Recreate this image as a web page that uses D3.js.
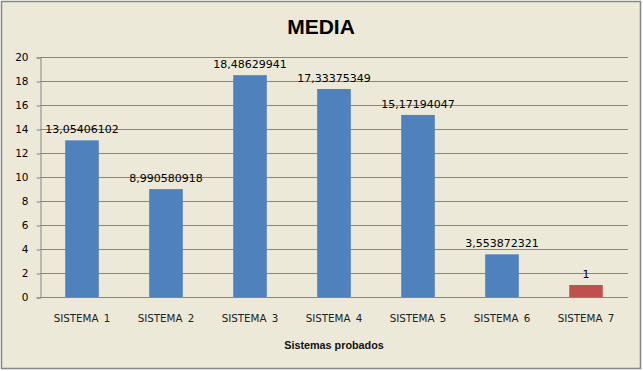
<!DOCTYPE html>
<html><head><meta charset="utf-8">
<script src="https://cdn.jsdelivr.net/npm/d3@7/dist/d3.min.js"></script>
<style>html,body{margin:0;padding:0;background:#fff;}svg{display:block;}</style>
</head><body>
<script>
const categories = ["SISTEMA 1","SISTEMA 2","SISTEMA 3","SISTEMA 4","SISTEMA 5","SISTEMA 6","SISTEMA 7"];
const values = [13.05406102, 8.990580918, 18.48629941, 17.33375349, 15.17194047, 3.553872321, 1];
const valueLabels = ["13,05406102","8,990580918","18,48629941","17,33375349","15,17194047","3,553872321","1"];
const barColors = ["#4F81BD","#4F81BD","#4F81BD","#4F81BD","#4F81BD","#4F81BD","#C0504D"];
const yTicks = [0,2,4,6,8,10,12,14,16,18,20];

(function(){
const W = 643, H = 371;
const svg = d3.select("body").append("svg").attr("width", W).attr("height", H);
svg.append("rect").attr("x",1.5).attr("y",1.5).attr("width",W-4).attr("height",H-4)
  .attr("fill","#ECE9D8").attr("stroke","#868686").attr("stroke-width",1.5);

const pL = 40, pR = 628, pT = 57, pB = 297;
const x = d3.scaleBand().domain(categories).range([pL, pR]).padding(0);
const y = d3.scaleLinear().domain([0,20]).range([pB, pT]);

// gridlines
svg.append("g").selectAll("line").data(yTicks).join("line")
  .attr("x1", pL).attr("x2", pR)
  .attr("y1", d => Math.round(y(d))+0.5).attr("y2", d => Math.round(y(d))+0.5)
  .attr("stroke","#868686").attr("stroke-width",1);

// y axis
const yAxis = d3.axisLeft(y).tickValues(yTicks).tickSize(4).tickPadding(8);
const gy = svg.append("g").attr("transform",`translate(${pL+0.5},0.5)`).call(yAxis);
gy.selectAll("path,line").attr("stroke","#868686");
gy.selectAll("text").attr("font-family","DejaVu Sans").attr("font-size","10.5px").attr("fill","#000");

// bars
const bw = x.bandwidth()*0.4;
svg.append("g").selectAll("rect").data(values).join("rect")
  .attr("x", (d,i) => x(categories[i]) + x.bandwidth()/2 - bw/2)
  .attr("y", d => y(d))
  .attr("width", bw)
  .attr("height", d => pB - y(d))
  .attr("fill", (d,i) => barColors[i]);

// x axis
const xAxis = d3.axisBottom(x).tickSize(0).tickPadding(17);
const gx = svg.append("g").attr("transform",`translate(0,${pB+0.5})`).call(xAxis);
gx.select(".domain").attr("stroke","#868686").attr("d",`M${pL},0H${pR}`);
gx.selectAll("text").attr("font-family","DejaVu Sans").attr("font-size","10.3px").attr("fill","#222")
  .attr("word-spacing","2px");

// data labels
svg.append("g").selectAll("text").data(values).join("text")
  .attr("x", (d,i) => x(categories[i]) + x.bandwidth()/2)
  .attr("y", d => y(d) - 7)
  .attr("text-anchor","middle")
  .attr("font-family","DejaVu Sans").attr("font-size","11px").attr("fill","#000")
  .text((d,i) => valueLabels[i]);

// title
svg.append("text").attr("x", 321).attr("y", 34).attr("text-anchor","middle")
  .attr("font-family","Liberation Sans, Arial").attr("font-weight","bold").attr("font-size","21px")
  .text("MEDIA");

// x axis title
svg.append("text").attr("x", 334).attr("y", 349).attr("text-anchor","middle")
  .attr("font-family","Liberation Sans, Arial").attr("font-weight","bold").attr("font-size","10.8px")
  .attr("fill","#111")
  .text("Sistemas probados");
})();
</script>
</body></html>
